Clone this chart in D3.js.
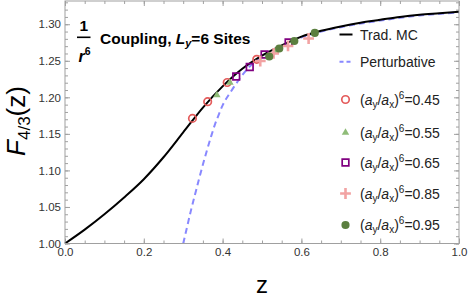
<!DOCTYPE html>
<html lang="en">
<head>
  <meta charset="UTF-8">
  <style>
    body { margin: 0; background: #fff; }
    svg { display: block; font-family: "Liberation Sans", Arial, sans-serif; }
    .frame { fill: none; stroke: #a0a0a0; stroke-width: 1; }
    .ticks path { display: none; }
    .ticks line { stroke: #a0a0a0; }
    .ticks text { fill: #333; font-size: 11.5px; font-family: "Liberation Sans", Arial, sans-serif; }
    .mc { fill: none; stroke: #000; stroke-width: 2; }
    .pert { fill: none; stroke: #8888ff; stroke-width: 2; stroke-dasharray: 6 4; }
    .leg text { font-size: 14px; fill: #222; }
  </style>
</head>
<body>
  <svg id="chart" width="469" height="299"></svg>
  <script src="https://cdnjs.cloudflare.com/ajax/libs/d3/7.8.5/d3.min.js"></script>
  <script>
    // Trad. MC curve
    const mcZ = [0, 0.05, 0.1, 0.15, 0.2, 0.25, 0.3, 0.35, 0.4, 0.45, 0.5, 0.55, 0.6, 0.65, 0.7, 0.75, 0.8, 0.85, 0.9, 0.95, 1.0]
    const mcF = [1.000, 1.019, 1.040, 1.063, 1.088, 1.118, 1.152, 1.186, 1.215, 1.239, 1.257, 1.271, 1.283, 1.291, 1.297, 1.302, 1.306, 1.310, 1.313, 1.315, 1.317]

    // Perturbative curve
    const ptZ = [0.30, 0.31, 0.32, 0.33, 0.34, 0.35, 0.36, 0.37, 0.38, 0.39, 0.40, 0.42, 0.44, 0.46, 0.48, 0.50, 0.55, 0.6, 0.65, 0.7, 0.8, 0.9, 1.0]
    const ptF = [1.000, 1.023, 1.046, 1.067, 1.088, 1.108, 1.127, 1.145, 1.162, 1.176, 1.189, 1.207, 1.223, 1.237, 1.248, 1.256, 1.270, 1.282, 1.290, 1.296, 1.305, 1.312, 1.316]

    // MC data points per (a_y/a_x)^6
    const ratios = ['0.45', '0.55', '0.65', '0.85', '0.95']
    const z45 = [0.3235, 0.3621, 0.4117, 0.4867]
    const f45 = [1.1712, 1.1940, 1.2203, 1.2520]
    const z55 = [0.3855, 0.4186, 0.5344]
    const f55 = [1.2032, 1.2200, 1.2630]
    const z65 = [0.4346, 0.4689, 0.5065, 0.5675]
    const f65 = [1.2285, 1.2415, 1.2586, 1.2751]
    const z85 = [0.4956, 0.5294, 0.5660, 0.6183]
    const f85 = [1.2497, 1.2600, 1.2703, 1.2805]
    const z95 = [0.5184, 0.5438, 0.5820, 0.6340]
    const f95 = [1.2559, 1.2668, 1.2771, 1.2881]

    const xMajor = [0, 0.2, 0.4, 0.6, 0.8, 1.0]
    const yMajor = [1.00, 1.05, 1.10, 1.15, 1.20, 1.25, 1.30]

    const plot = { left: 65, right: 459, top: 1, bottom: 243.5 }

    const xScale = d3.scaleLinear()
      .domain([0, 1])
      .range([plot.left, plot.right])
    const yScale = d3.scaleLinear()
      .domain([1, 1.3318])
      .range([plot.bottom, plot.top])

    const svg = d3.select('#chart')

    // Frame and ticks
    // ===============
    const xMinor = d3.range(0, 1.0001, 0.05)
    const yMinor = d3.range(1, 1.332, 0.01)

    const frameAxis = (axisFn, scale, values, size, fmt, transform) => {
      svg.append('g')
          .attr('class', 'ticks')
          .attr('transform', transform)
          .call(axisFn(scale).tickValues(values).tickSize(size).tickSizeOuter(0)
            .tickPadding(4).tickFormat(fmt))
    }
    const none = () => ''
    // bottom
    frameAxis(d3.axisBottom, xScale, xMinor, -3, none, `translate(0,${plot.bottom})`)
    frameAxis(d3.axisBottom, xScale, xMajor, -5, d3.format('.1f'), `translate(0,${plot.bottom})`)
    // top
    frameAxis(d3.axisTop, xScale, xMinor, -3, none, `translate(0,${plot.top})`)
    frameAxis(d3.axisTop, xScale, xMajor, -5, none, `translate(0,${plot.top})`)
    // left
    frameAxis(d3.axisLeft, yScale, yMinor, -3, none, `translate(${plot.left},0)`)
    frameAxis(d3.axisLeft, yScale, yMajor, -5, d3.format('.2f'), `translate(${plot.left},0)`)
    // right
    frameAxis(d3.axisRight, yScale, yMinor, -3, none, `translate(${plot.right},0)`)
    frameAxis(d3.axisRight, yScale, yMajor, -5, none, `translate(${plot.right},0)`)

    svg.selectAll('.ticks text').each(function () {
      const t = d3.select(this)
      if (t.text() === '') t.remove()
    })

    // Curves
    // ======
    const line = d3.line()
      .x(d => xScale(d[0]))
      .y(d => yScale(d[1]))
      .curve(d3.curveMonotoneX)

    svg.append('path')
        .attr('class', 'pert')
        .datum(d3.zip(ptZ, ptF))
        .attr('d', line)
    svg.append('path')
        .attr('class', 'mc')
        .datum(d3.zip(mcZ, mcF))
        .attr('d', line)

    // Markers
    // =======
    const markers = [
      { z: z45, f: f45, type: d3.symbolCircle, size: 44, fill: 'none', stroke: '#e45b5b', sw: 1.7 },
      { z: z55, f: f55, type: d3.symbolTriangle, size: 24, fill: '#8fbc78', stroke: 'none', sw: 0 },
      { z: z65, f: f65, type: d3.symbolSquare, size: 44, fill: 'none', stroke: '#800080', sw: 1.7 },
      { z: z85, f: f85, type: d3.symbolPlus, size: 40, fill: 'none', stroke: '#f2a3a3', sw: 2.6 },
      { z: z95, f: f95, type: d3.symbolCircle, size: 52, fill: '#5b7f3f', stroke: 'none', sw: 0 },
    ]

    markers.forEach(m => {
      svg.append('g')
        .selectAll('path')
        .data(d3.zip(m.z, m.f))
        .enter().append('path')
          .attr('transform', d => `translate(${xScale(d[0])},${yScale(d[1])})`)
          .attr('d', d3.symbol(m.type, m.size))
          .attr('fill', m.fill)
          .attr('stroke', m.stroke)
          .attr('stroke-width', m.sw)
    })

    // Legend
    // ======
    const leg = svg.append('g').attr('class', 'leg')
    const legX = 345.5
    const textX = 360

    leg.append('line')
        .attr('x1', legX - 6).attr('x2', legX + 7)
        .attr('y1', 34.5).attr('y2', 34.5)
        .attr('stroke', '#000').attr('stroke-width', 2)
    leg.append('text').attr('x', textX).attr('y', 39.5).text('Trad. MC')

    leg.append('line')
        .attr('x1', legX - 6).attr('x2', legX + 7)
        .attr('y1', 61.7).attr('y2', 61.7)
        .attr('stroke', '#8888ff').attr('stroke-width', 2)
        .attr('stroke-dasharray', '4 3')
    leg.append('text').attr('x', textX).attr('y', 66.7).text('Perturbative')

    const legY = [99.5, 132.5, 162.5, 193.5, 225]
    markers.forEach((m, i) => {
      leg.append('path')
          .attr('transform', `translate(${legX},${legY[i]})`)
          .attr('d', d3.symbol(m.type, m.size))
          .attr('fill', m.fill)
          .attr('stroke', m.stroke)
          .attr('stroke-width', m.sw)
      const t = leg.append('text').attr('x', textX).attr('y', legY[i] + 5)
      t.append('tspan').text('(')
      t.append('tspan').attr('font-style', 'italic').text('a')
      t.append('tspan').attr('font-size', '10px').attr('dy', 3).text('y')
      t.append('tspan').attr('dy', -3).text('/')
      t.append('tspan').attr('font-style', 'italic').text('a')
      t.append('tspan').attr('font-size', '10px').attr('dy', 3).text('x')
      t.append('tspan').attr('dy', -3).text(')')
      t.append('tspan').attr('font-size', '10px').attr('dy', -6).text('6')
      t.append('tspan').attr('dy', 6).text('=' + ratios[i])
    })

    // Title
    // =====
    const title = svg.append('g').attr('font-weight', 'bold').attr('fill', '#000')
    title.append('text')
        .attr('x', 83.8).attr('y', 30.5)
        .attr('text-anchor', 'middle')
        .attr('font-size', '15.5px')
        .text('1')
    title.append('line')
        .attr('x1', 77).attr('x2', 90.5)
        .attr('y1', 37.3).attr('y2', 37.3)
        .attr('stroke', '#000').attr('stroke-width', 1.6)
    const rText = title.append('text')
        .attr('x', 78.5).attr('y', 61.5)
        .attr('font-size', '16px')
    rText.append('tspan').attr('font-style', 'italic').text('r')
    rText.append('tspan').attr('font-size', '10.5px').attr('dy', -7).text('6')

    const tText = title.append('text')
        .attr('x', 100).attr('y', 43.5)
        .attr('font-size', '15.5px')
    tText.append('tspan').text('Coupling, ')
    tText.append('tspan').attr('font-style', 'italic').text('L')
    tText.append('tspan').attr('font-size', '11px').attr('font-style', 'italic').attr('dy', 3).text('y')
    tText.append('tspan').attr('dy', -3).text('=6 Sites')

    // Axis labels
    // ===========
    svg.append('text')
        .attr('x', 262).attr('y', 293)
        .attr('text-anchor', 'middle')
        .attr('font-size', '24px')
        .attr('fill', '#000')
        .text('z')

    const yl = svg.append('text')
        .attr('transform', 'translate(25,121) rotate(-90)')
        .attr('text-anchor', 'middle')
        .attr('font-size', '26px')
        .attr('fill', '#000')
    yl.append('tspan').attr('font-style', 'italic').text('F')
    yl.append('tspan').attr('font-size', '17px').attr('dy', 5).text('4/3')
    yl.append('tspan').attr('dy', -5).text('(z)')

    // Frame on top
    svg.append('rect')
        .attr('class', 'frame')
        .attr('x', plot.left).attr('y', plot.top)
        .attr('width', plot.right - plot.left)
        .attr('height', plot.bottom - plot.top)
  </script>
</body>
</html>
